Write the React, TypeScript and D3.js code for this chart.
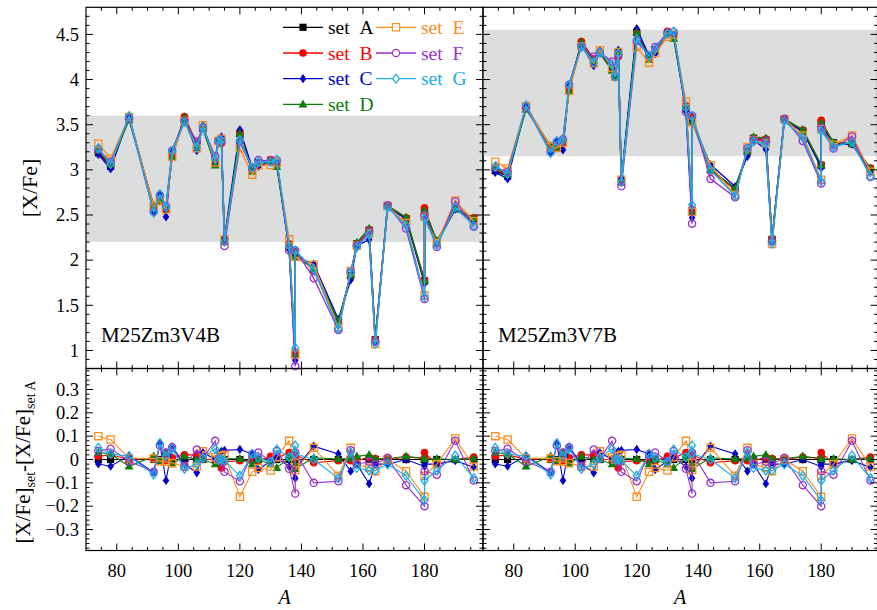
import React, { useEffect, useRef } from "react";
import * as d3 from "d3";

// p-nuclei mass numbers (138 and 180 appear twice: La/Ce, Ta/W)
const massNumbers = [74, 78, 84, 92, 94, 96, 98, 102, 106, 108, 112, 113, 114, 115, 120, 124, 126, 130, 132, 136, 138, 138, 144, 152, 156, 158, 162, 164, 168, 174, 180, 180, 184, 190, 196];

// [X/Fe] for set A
const setA_V4B = [3.19, 3.04, 3.58, 2.59, 2.66, 2.57, 3.16, 3.57, 3.27, 3.46, 3.07, 3.32, 3.33, 2.21, 3.40, 3.00, 3.08, 3.10, 3.07, 2.15, 0.97, 2.08, 1.90, 1.32, 1.83, 2.18, 2.33, 1.12, 2.60, 2.46, 1.77, 2.55, 2.21, 2.57, 2.46];
const setA_V7B = [2.99, 2.93, 3.70, 3.25, 3.25, 3.31, 3.89, 4.40, 4.21, 4.29, 4.12, 4.03, 4.29, 2.87, 4.52, 4.24, 4.33, 4.52, 4.49, 3.68, 2.55, 3.57, 3.00, 2.79, 3.20, 3.35, 3.33, 2.23, 3.56, 3.43, 3.05, 3.52, 3.30, 3.29, 3.01];

// [X/Fe]_set - [X/Fe]_setA
const diffB = [0.014, 0.02, 0.0, 0.005, -0.007, -0.005, 0.007, 0.02, 0.02, 0.0, 0.0, 0.005, -0.036, -0.01, -0.005, -0.005, -0.005, 0.014, 0.005, 0.03, 0.01, 0.02, -0.014, -0.005, -0.005, -0.005, 0.01, 0.004, 0.0, 0.01, 0.005, 0.03, -0.02, 0.0, 0.01];
const diffC = [-0.019, -0.029, 0.017, -0.055, 0.067, -0.09, 0.054, -0.02, -0.057, 0.03, 0.0, 0.01, 0.035, 0.039, 0.043, 0.024, -0.043, -0.007, 0.007, -0.03, -0.08, -0.04, 0.057, 0.024, -0.05, -0.02, -0.104, -0.02, -0.02, 0.0, -0.03, -0.02, -0.02, -0.005, -0.033];
const diffD = [0.03, 0.024, -0.029, 0.014, -0.005, 0.03, -0.019, 0.014, 0.0, 0.0, -0.02, -0.005, 0.0, 0.004, 0.003, -0.02, 0.0, -0.02, -0.036, 0.007, -0.02, -0.04, 0.007, 0.002, 0.005, 0.014, 0.02, 0.003, 0.003, 0.014, 0.004, 0.002, 0.003, 0.0, 0.005];
const diffE = [0.10, 0.086, 0.005, 0.005, -0.007, -0.01, -0.015, -0.03, -0.03, 0.035, 0.01, 0.0, 0.015, 0.02, -0.16, -0.053, -0.036, -0.047, 0.01, 0.08, -0.015, -0.045, 0.05, -0.07, 0.05, -0.02, -0.035, -0.05, 0.0, -0.05, -0.16, -0.07, -0.02, 0.09, -0.03];
const diffF = [0.036, 0.046, -0.007, -0.053, 0.06, 0.03, 0.053, -0.03, 0.043, 0.005, 0.08, 0.0, -0.01, -0.053, -0.093, 0.024, 0.03, -0.007, 0.036, -0.04, -0.146, 0.03, -0.1, -0.093, 0.04, -0.02, -0.01, -0.02, 0.007, -0.11, -0.2, -0.05, -0.065, 0.08, -0.09];
const diffG = [0.05, 0.024, 0.014, -0.064, 0.07, 0.014, 0.046, -0.04, -0.02, 0.007, 0.046, 0.0, 0.0, -0.005, -0.07, 0.024, 0.007, -0.011, 0.043, 0.01, 0.06, 0.025, 0.0, -0.08, 0.03, -0.036, -0.047, -0.047, -0.02, -0.07, -0.175, -0.09, -0.047, 0.017, -0.08];
const diffA = massNumbers.map(() => 0);

const setNames = ["A", "B", "C", "D", "E", "F", "G"];
const setColors = ["#000000", "#ff0000", "#0000c8", "#0a7d0a", "#ff8c1e", "#9933cc", "#18aee6"];
const setMarkers = ["square", "circle", "diamond", "triangle", "osquare", "ocircle", "odiamond"];
const setDiffs = [diffA, diffB, diffC, diffD, diffE, diffF, diffG];

const xTickLabels = [80, 100, 120, 140, 160, 180];
const yTickLabelsTop = [1, 1.5, 2, 2.5, 3, 3.5, 4, 4.5];
const yTickLabelsBottom = [-0.3, -0.2, -0.1, 0, 0.1, 0.2, 0.3];
const bandV4B = [2.2, 3.6];
const bandV7B = [3.15, 4.55];

const FONT = "Liberation Serif, Times New Roman, Times, DejaVu Serif, serif";

function markerPath(kind: string) {
  switch (kind) {
    case "square":
    case "osquare":
      return "M-3.6,-3.6h7.2v7.2h-7.2z";
    case "circle":
      return "M3.8,0A3.8,3.8 0 1,1 -3.8,0A3.8,3.8 0 1,1 3.8,0Z";
    case "ocircle":
      return "M3.6,0A3.6,3.6 0 1,1 -3.6,0A3.6,3.6 0 1,1 3.6,0Z";
    case "diamond":
      return "M0,-4.6L3.3,0L0,4.6L-3.3,0Z";
    case "odiamond":
      return "M0,-4.4L3.4,0L0,4.4L-3.4,0Z";
    default:
      return "M0,-4.8L4.4,3.2L-4.4,3.2Z";
  }
}

function App() {
  const svgRef: any = useRef(null);

  useEffect(() => {
    draw();
  }, []);

  const draw = () => {
    const svg = d3.select(svgRef.current);
    svg.selectAll("*").remove();
    svg.style("font-family", FONT);

    const topY0 = 7.3, mid = 368.5, botY1 = 550.5;

    const panels = [
      { x0: 86, x1: 483, dom: [70, 199], base: setA_V4B, band: bandV4B, name: "M25Zm3V4B", first: true },
      { x0: 483, x1: 877.5, dom: [70, 198.3], base: setA_V7B, band: bandV7B, name: "M25Zm3V7B", first: false },
    ];

    const drawTicks = (g: any, x: any, y: any, xMinor: number[], yMinor: number[], isMajorX: any, isMajorY: any) => {
      const [xa, xb] = x.range();
      const [ya, yb] = y.range(); // ya bottom, yb top
      xMinor.forEach((v) => {
        const len = isMajorX(v) ? 7 : 3.5;
        g.append("line").attr("x1", x(v)).attr("x2", x(v)).attr("y1", ya).attr("y2", ya - len);
        g.append("line").attr("x1", x(v)).attr("x2", x(v)).attr("y1", yb).attr("y2", yb + len);
      });
      yMinor.forEach((v) => {
        const len = isMajorY(v) ? 7 : 3.5;
        g.append("line").attr("x1", xa).attr("x2", xa + len).attr("y1", y(v)).attr("y2", y(v));
        g.append("line").attr("x1", xb).attr("x2", xb - len).attr("y1", y(v)).attr("y2", y(v));
      });
      g.selectAll("line").attr("stroke", "#000").attr("stroke-width", 1);
    };

    const drawSets = (g: any, x: any, y: any, valuesFor: (i: number) => number[], lw: number) => {
      setNames.forEach((_, i) => {
        const vals = valuesFor(i);
        const pts = massNumbers.map((m, k) => [m, vals[k]]);
        const line = d3.line().x((d: any) => x(d[0])).y((d: any) => y(d[1]));
        g.append("path")
          .datum(pts)
          .attr("fill", "none")
          .attr("stroke", setColors[i])
          .attr("stroke-width", lw)
          .attr("d", line as any);
        const open = setMarkers[i].startsWith("o");
        g.append("g")
          .selectAll("path")
          .data(pts)
          .enter()
          .append("path")
          .attr("transform", (d: any) => `translate(${x(d[0])},${y(d[1])})`)
          .attr("d", markerPath(setMarkers[i]))
          .attr("fill", open ? "none" : setColors[i])
          .attr("stroke", open ? setColors[i] : "none")
          .attr("stroke-width", 1.3);
      });
    };

    panels.forEach((p) => {
      const x = d3.scaleLinear().domain(p.dom).range([p.x0, p.x1]);
      const yTop = d3.scaleLinear().domain([0.8, 4.8]).range([mid, topY0]);
      const yBot = d3.scaleLinear().domain([-0.39, 0.39]).range([botY1, mid]);

      // shaded band
      svg
        .append("rect")
        .attr("x", p.x0)
        .attr("width", p.x1 - p.x0)
        .attr("y", yTop(p.band[1]))
        .attr("height", yTop(p.band[0]) - yTop(p.band[1]))
        .attr("fill", "#dcdddd");

      // top panel
      const gTop = svg.append("g");
      drawSets(gTop, x, yTop, (i) => p.base.map((v, k) => v + setDiffs[i][k]), 1.4);

      // bottom panel
      const gBot = svg.append("g");
      drawSets(gBot, x, yBot, (i) => setDiffs[i], 1.1);

      // frames
      [
        [topY0, mid],
        [mid, botY1],
      ].forEach(([a, b]) => {
        svg
          .append("rect")
          .attr("x", p.x0)
          .attr("y", a)
          .attr("width", p.x1 - p.x0)
          .attr("height", b - a)
          .attr("fill", "none")
          .attr("stroke", "#000")
          .attr("stroke-width", 1.2);
      });

      const xMinor = d3.range(70, 200, 5).filter((v) => v > p.dom[0] && v < p.dom[1]);
      drawTicks(
        svg.append("g"),
        x,
        yTop,
        xMinor,
        d3.range(9, 48).map((v) => v / 10),
        (v: number) => v % 20 === 0,
        (v: number) => Math.abs(v * 2 - Math.round(v * 2)) < 1e-6
      );
      drawTicks(
        svg.append("g"),
        x,
        yBot,
        xMinor,
        d3.range(-19, 20).map((v) => v / 50),
        (v: number) => v % 20 === 0,
        (v: number) => Math.abs(v * 10 - Math.round(v * 10)) < 1e-6
      );

      // x tick labels
      svg
        .append("g")
        .selectAll("text")
        .data(xTickLabels)
        .enter()
        .append("text")
        .attr("x", (d: number) => x(d))
        .attr("y", 577)
        .attr("text-anchor", "middle")
        .attr("font-size", 18.5)
        .text((d: number) => String(d));

      svg
        .append("text")
        .attr("x", (p.x0 + Math.min(p.x1, 877)) / 2)
        .attr("y", 604)
        .attr("text-anchor", "middle")
        .attr("font-size", 20)
        .attr("font-style", "italic")
        .text("A");

      svg
        .append("text")
        .attr("x", p.x0 + 15)
        .attr("y", 342)
        .attr("font-size", 21)
        .text(p.name);

      if (p.first) {
        svg
          .append("g")
          .selectAll("text")
          .data(yTickLabelsTop)
          .enter()
          .append("text")
          .attr("x", 79)
          .attr("y", (d: number) => yTop(d))
          .attr("dy", "0.34em")
          .attr("text-anchor", "end")
          .attr("font-size", 18.5)
          .text((d: number) => String(d));
        svg
          .append("g")
          .selectAll("text")
          .data(yTickLabelsBottom)
          .enter()
          .append("text")
          .attr("x", 79)
          .attr("y", (d: number) => yBot(d))
          .attr("dy", "0.34em")
          .attr("text-anchor", "end")
          .attr("font-size", 18.5)
          .text((d: number) => (d < 0 ? "\u2212" + Math.abs(d) : String(d)));

        // legend
        const legend = svg.append("g");
        setNames.forEach((n, i) => {
          const col = i < 4 ? 0 : 1;
          const row = i < 4 ? i : i - 4;
          const lx = col === 0 ? 283 : 376;
          const ly = 27.3 + row * 25.7;
          legend
            .append("line")
            .attr("x1", lx)
            .attr("x2", lx + 40)
            .attr("y1", ly)
            .attr("y2", ly)
            .attr("stroke", setColors[i])
            .attr("stroke-width", 1.3);
          const open = setMarkers[i].startsWith("o");
          legend
            .append("path")
            .attr("transform", `translate(${lx + 20},${ly})`)
            .attr("d", markerPath(setMarkers[i]))
            .attr("fill", open ? "#fff" : setColors[i])
            .attr("stroke", open ? setColors[i] : "none")
            .attr("stroke-width", 1.2);
          legend
            .append("text")
            .attr("x", lx + 45)
            .attr("y", ly)
            .attr("dy", "0.34em")
            .attr("font-size", 19.5)
            .attr("fill", setColors[i])
            .text(`set\u2002${n}`);
        });
      }
    });

    // y axis labels
    svg
      .append("text")
      .attr("transform", `translate(37,188) rotate(-90)`)
      .attr("text-anchor", "middle")
      .attr("font-size", 22)
      .text("[X/Fe]");

    const yl = svg
      .append("text")
      .attr("transform", `translate(30,462) rotate(-90)`)
      .attr("text-anchor", "middle")
      .attr("font-size", 21);
    yl.append("tspan").text("[X/Fe]");
    yl.append("tspan").attr("dy", 5).attr("font-size", 14).text("set");
    yl.append("tspan").attr("dy", -5).text("-[X/Fe]");
    yl.append("tspan").attr("dy", 5).attr("font-size", 14).text("set A");
  };

  return (
    <div>
      <svg
        ref={svgRef}
        width={877}
        height={610}
        style={{ position: "absolute", left: 0, top: 0, background: "#fff" }}
      />
    </div>
  );
}

export default App;
